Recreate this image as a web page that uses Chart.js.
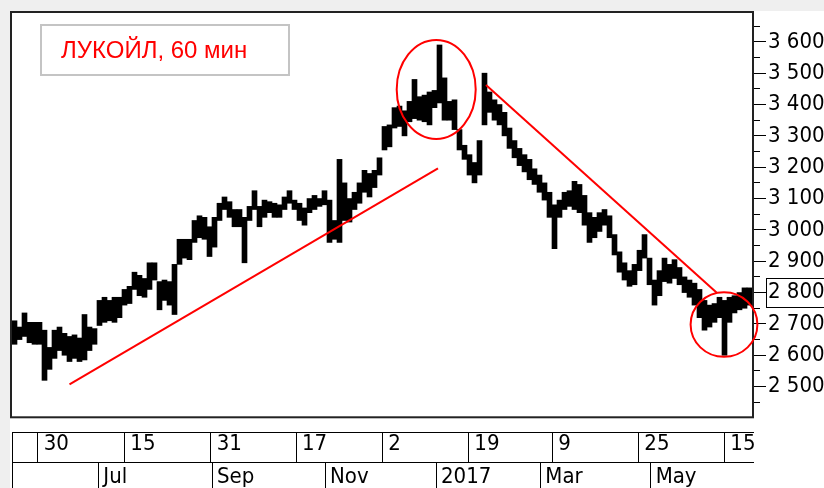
<!DOCTYPE html>
<html><head><meta charset="utf-8">
<script src="https://cdn.jsdelivr.net/npm/chart.js@4/dist/chart.umd.min.js"></script>
<style>html,body{margin:0;padding:0;background:#fff;overflow:hidden}#wrap{width:824px;height:488px;position:relative}canvas{display:block}</style>
</head><body><div id="wrap"><canvas id="c" width="824" height="488"></canvas></div>
<script>
// ---- data (60-minute bars, aggregated into columns: high / low) ----
const highs = [2710,2690,2735,2705,2705,2705,2680,2625,2680,2690,2670,2660,2665,2655,2730,2690,2685,2775,2785,2775,
2785,2785,2810,2820,2865,2855,2845,2895,2895,2835,2840,2835,2890,2970,2970,2970,3030,3045,3040,3010,
3040,3085,3105,3090,3065,3065,3040,3075,3125,3075,3095,3090,3085,3080,3105,3125,3095,3085,3070,3100,
3110,3100,3125,3095,3030,3225,3150,3100,3120,3150,3190,3180,3190,3230,3330,3335,3390,3395,3380,3410,
3480,3425,3430,3440,3445,3590,3485,3410,3415,3320,3270,3240,3215,3285,3500,3440,3415,3400,3375,3325,
3285,3260,3240,3225,3195,3175,3150,3120,3080,3095,3120,3125,3155,3145,3110,3055,3040,3055,3065,3045,
2985,2930,2895,2870,2890,2935,2985,2910,2840,2870,2910,2890,2905,2880,2850,2840,2830,2810,2775,2760,
2765,2785,2775,2785,2790,2800,2815,2815];
const lows = [2635,2650,2660,2640,2635,2635,2520,2555,2590,2615,2600,2580,2590,2580,2585,2615,2635,2695,2705,2710,
2705,2720,2760,2765,2810,2790,2785,2810,2840,2745,2775,2760,2730,2890,2910,2905,2960,2975,2970,2915,
2945,3030,3065,3040,3010,3010,2895,3030,3065,3010,3040,3055,3040,3040,3065,3085,3065,3030,3015,3055,
3065,3075,3080,2960,2970,2960,3030,3025,3065,3085,3120,3105,3135,3175,3255,3265,3325,3330,3300,3345,
3355,3350,3345,3335,3390,3405,3350,3350,3320,3255,3225,3175,3150,3175,3335,3375,3350,3335,3300,3260,
3230,3205,3185,3160,3145,3120,3095,3040,2940,3040,3065,3075,3065,3055,3015,2960,2975,2995,3015,2975,
2920,2865,2840,2820,2825,2870,2910,2825,2760,2790,2835,2830,2845,2825,2800,2785,2760,2720,2680,2690,
2705,2720,2600,2705,2735,2745,2750,2760];
const lastPrice = 2800;

// bottom time axis (positions in column units)
const dayTickPos    = [5.13, 22.47, 39.73, 56.8, 74.07, 91.27, 108.07, 125.27, 142.47];
const dayTickLabels = ['30','15','31','17','2','19','9','25','15'];
const monthTickPos    = [17.27, 40.0, 62.6, 84.8, 105.67, 127.73];
const monthTickLabels = ['Jul','Sep','Nov','2017','Mar','May'];

// price axis
const priceTicks = [2500,2600,2700,2800,2900,3000,3100,3200,3300,3400,3500,3600];
const minorPriceTicks = [2450,2550,2650,2750,2850,2950,3050,3150,3250,3350,3450,3550,3650];
const X_MAX = 148.2, Y_MIN = 2403, Y_MAX = 3692;

// annotations
const titleText = 'ЛУКОЙЛ, 60 мин';
const supportLine = [{x:11.5, y:2507}, {x:85.2, y:3196}];
const resistLine  = [{x:94.8, y:3462}, {x:140.9, y:2800}];
const circles = [{x:84.84, y:3448, rx:7.9, ry:158}, {x:142.4, y:2698, rx:6.68, ry:103}];

function hasFont(name){
  const c=document.createElement('canvas').getContext('2d');
  const s='3 600 Sep Mar May 2017';
  c.font='40px monospace'; const a=c.measureText(s).width;
  c.font='40px "'+name+'", monospace'; const b=c.measureText(s).width;
  c.font='40px serif'; const a2=c.measureText(s).width;
  c.font='40px "'+name+'", serif'; const b2=c.measureText(s).width;
  return a!==b || a2!==b2;
}
let axisFont;
if (hasFont('Liberation Sans Narrow')) axisFont={family:'"Liberation Sans Narrow"', size:25};
else if (hasFont('DejaVu Sans Condensed')) axisFont={family:'"DejaVu Sans Condensed"', size:22};
else axisFont={family:'"Liberation Sans", Arial, sans-serif', size:22};

function fmt(v){ const t=Math.floor(v/1000), r=v%1000; return t>0 ? t+' '+String(r).padStart(3,'0') : String(r); }

const bgPlugin = {
  id:'bg',
  beforeDraw(chart){
    const c=chart.ctx; c.save();
    c.fillStyle='#fff'; c.fillRect(0,0,chart.width,chart.height);
    c.fillStyle='#efefef'; c.fillRect(0,0,chart.width,11); c.fillRect(0,0,10,chart.height);
    c.restore();
  }
};
const decoPlugin = {
  id:'deco',
  afterDatasetsDraw(chart){
    const c=chart.ctx, a=chart.chartArea, xs=chart.scales.x, ys=chart.scales.y;
    c.save();
    c.strokeStyle='#222'; c.lineWidth=2;
    c.strokeRect(a.left-1, a.top-1, a.right-a.left+1, a.bottom-a.top+1.3);
    c.strokeStyle='#ff0000'; c.lineWidth=2;
    circles.forEach(o=>{
      const cx=xs.getPixelForValue(o.x), cy=ys.getPixelForValue(o.y);
      const rx=Math.abs(xs.getPixelForValue(o.x+o.rx)-cx), ry=Math.abs(ys.getPixelForValue(o.y+o.ry)-cy);
      c.beginPath(); c.ellipse(cx,cy,rx,ry,0,0,Math.PI*2); c.stroke();
    });
    c.restore();
  },
  afterDraw(chart){
    const c=chart.ctx, a=chart.chartArea, ys=chart.scales.y;
    c.save();
    const py=Math.round(ys.getPixelForValue(lastPrice));
    c.strokeStyle='#000'; c.lineWidth=1;
    c.strokeRect(a.right+13.5, py-14.5, 80, 29);
    c.fillStyle='#fff'; c.fillRect(41,25,248,50);
    c.strokeStyle='#c4c4c4'; c.lineWidth=2; c.strokeRect(41,25,248,50);
    c.fillStyle='#ff0000'; c.font='24px "Liberation Sans", Arial, sans-serif';
    c.textBaseline='middle'; c.textAlign='left';
    c.fillText(titleText, 61, 51);
    c.restore();
  }
};

const bars = highs.map((h,i)=>({x:i+0.5, y:[lows[i], h]}));

function xAxis(extra){
  return Object.assign({type:'linear', position:'bottom', min:0, max:X_MAX, offset:false, bounds:'data'}, extra);
}

new Chart(document.getElementById('c'), {
  type:'bar',
  data:{ datasets:[
    {type:'line', data:supportLine, borderColor:'#ff0000', borderWidth:2, pointRadius:0, order:0, xAxisID:'x', yAxisID:'y'},
    {type:'line', data:resistLine, borderColor:'#ff0000', borderWidth:2, pointRadius:0, order:0, xAxisID:'x', yAxisID:'y'},
    {type:'bar', data:bars, backgroundColor:'#000', borderWidth:0, barPercentage:1, categoryPercentage:1, order:1, xAxisID:'x', yAxisID:'y'}
  ]},
  options:{
    responsive:false, animation:false, events:[],
    layout:{padding:{left:12, top:13, right:0, bottom:0}},
    plugins:{legend:{display:false}, tooltip:{enabled:false}, title:{display:false}},
    scales:{
      x:xAxis({weight:0,
         ticks:{display:false}, grid:{display:false, offset:false}, border:{display:false},
         afterFit:s=>{s.height=15; s.paddingLeft=0; s.paddingRight=0;}}),
      xd:xAxis({weight:1,
         afterBuildTicks:s=>{ s.ticks=[0].concat(dayTickPos).map(v=>({value:v})); },
         ticks:{autoSkip:false, maxRotation:0, minRotation:0, align:'start', labelOffset:6, padding:-31, color:'#000', font:axisFont,
                callback:(v,i)=> i===0 ? '' : dayTickLabels[i-1]},
         grid:{offset:false, drawOnChartArea:false, drawTicks:true, tickLength:30, color:'#000', lineWidth:1},
         border:{display:true, color:'#000', width:1},
         afterFit:s=>{s.height=30; s.paddingLeft=0; s.paddingRight=0;}}),
      xm:xAxis({weight:2,
         afterBuildTicks:s=>{ s.ticks=[0].concat(monthTickPos).map(v=>({value:v})); },
         ticks:{autoSkip:false, maxRotation:0, minRotation:0, align:'start', labelOffset:5, padding:-28, color:'#000', font:axisFont,
                callback:(v,i)=> i===0 ? '' : monthTickLabels[i-1]},
         grid:{offset:false, drawOnChartArea:false, drawTicks:true, tickLength:30, color:'#000', lineWidth:1},
         border:{display:true, color:'#000', width:1},
         afterFit:s=>{s.height=26; s.paddingLeft=0; s.paddingRight=0;}}),
      yMinor:{type:'linear', position:'right', weight:0, min:Y_MIN, max:Y_MAX, beginAtZero:false,
         afterBuildTicks:s=>{ s.ticks=minorPriceTicks.map(v=>({value:v})); },
         ticks:{display:false}, grid:{drawOnChartArea:false, drawTicks:true, tickLength:7, color:'#000', lineWidth:1},
         border:{display:false},
         afterFit:s=>{s.width=0; s.paddingTop=0; s.paddingBottom=0;}},
      y:{type:'linear', position:'right', weight:1, min:Y_MIN, max:Y_MAX, beginAtZero:false,
         afterBuildTicks:s=>{ s.ticks=priceTicks.map(v=>({value:v})); },
         ticks:{autoSkip:false, padding:2, color:'#000', font:axisFont, callback:v=>fmt(v)},
         grid:{drawOnChartArea:false, drawTicks:true, tickLength:13, color:'#000', lineWidth:1},
         border:{display:true, color:'#222', width:2},
         afterFit:s=>{s.width=71; s.paddingTop=0; s.paddingBottom=0;}}
    }
  },
  plugins:[bgPlugin, decoPlugin]
});
</script></body></html>
